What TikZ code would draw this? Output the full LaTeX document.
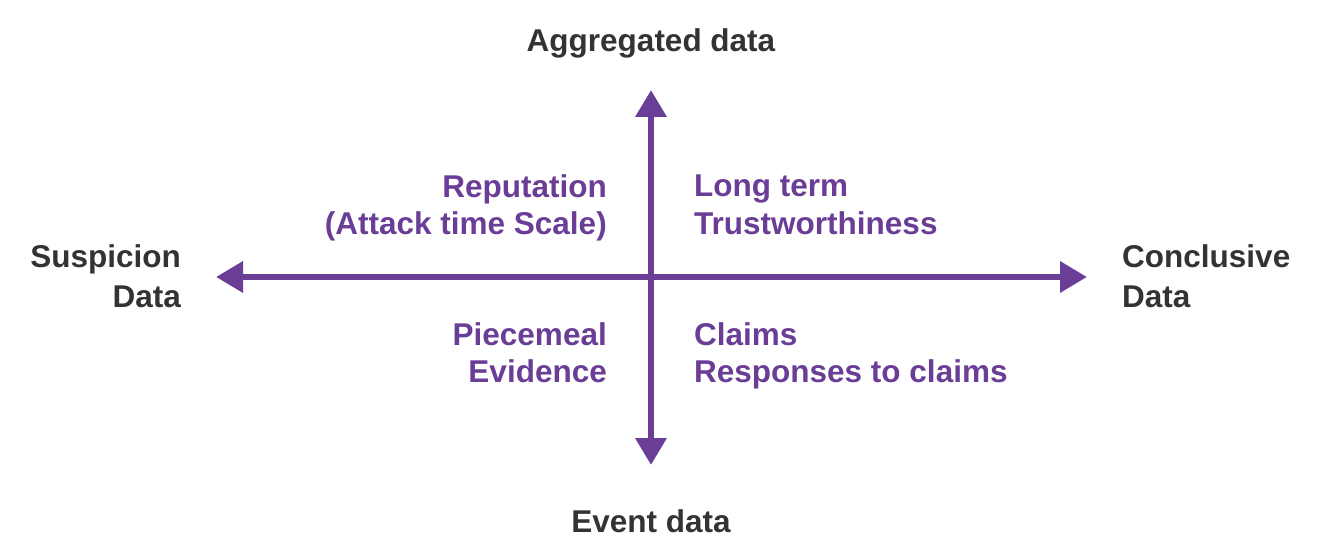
\documentclass[tikz,border=0pt]{standalone}
\usepackage{fontspec}
\setmainfont{Liberation Sans}
\usepackage{tikz}
\usetikzlibrary{arrows.meta}

\definecolor{axispurple}{HTML}{6A3D96}
\definecolor{labelgray}{HTML}{333333}

\begin{document}
\begin{tikzpicture}[x=1pt,y=-1pt,
    axis/.style={line width=6.5pt,axispurple,{Triangle[width=30pt,length=27pt]}-{Triangle[width=30pt,length=27pt]}},
    side/.style={inner sep=0pt,text=labelgray,font=\fontsize{31.5}{40}\selectfont\bfseries},
    quad/.style={inner sep=0pt,text=axispurple,font=\fontsize{31.5}{37}\selectfont\bfseries}]
    \useasboundingbox (0,0) rectangle (1333,556);
    \coordinate (top) at (651,90);
    \coordinate (bottom) at (651,465);
    \coordinate (left) at (216,277);
    \coordinate (right) at (1087,277);
    \draw[axis](bottom)--(top);
    \draw[axis](left)--(right);
    \node[side,anchor=base] (agg) at (651,52){Aggregated data};
    \node[side,anchor=base] (event) at (651,532){Event data};
    \node[side,anchor=base east,align=right] (susp) at (181,307){Suspicion\\Data};
    \node[side,anchor=base west,align=left] (concl) at (1122,307){Conclusive\\Data};
    \node[quad,anchor=base east,align=right] (rep) at (607,235){Reputation\\(Attack time Scale)};
    \node[quad,anchor=base west,align=left] (long) at (694,234){Long term\\Trustworthiness};
    \node[quad,anchor=base east,align=right] (piece) at (607,382){Piecemeal\\Evidence};
    \node[quad,anchor=base west,align=left] (claims) at (694,382){Claims\\Responses to claims};
\end{tikzpicture}
\end{document}
